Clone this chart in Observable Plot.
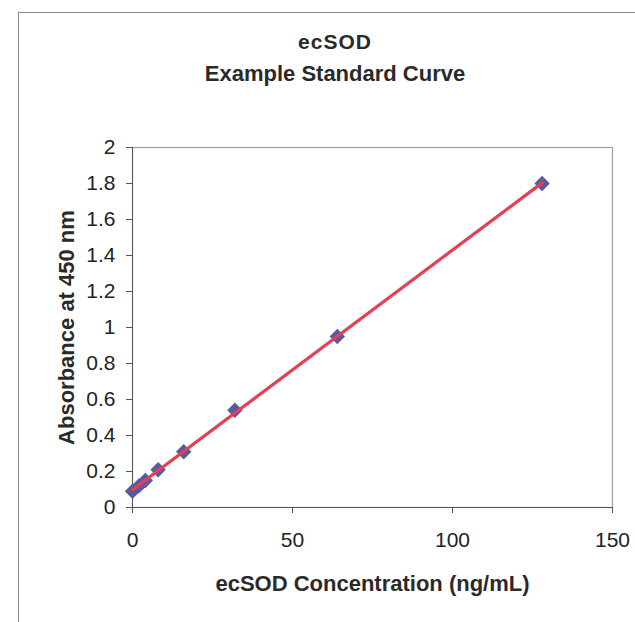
<!DOCTYPE html>
<html><head><meta charset="utf-8">
<script src="https://cdn.jsdelivr.net/npm/d3@7"></script>
<script src="https://cdn.jsdelivr.net/npm/@observablehq/plot@0.6"></script>
<style>
body{margin:0;background:#fff;}
#wrap{position:relative;width:635px;height:622px;font-family:Arial,"Liberation Sans",sans-serif;color:#222;overflow:hidden;}
#border{position:absolute;left:18px;top:12px;width:640px;height:640px;border-left:1.5px solid #8a8a8a;border-top:1.5px solid #8a8a8a;}
.t{position:absolute;left:0;width:670px;text-align:center;font-weight:bold;font-size:22px;line-height:24px;color:#2a2a2a;}
#chart{position:absolute;left:0;top:0;}
</style></head>
<body>
<div id="wrap">
<div id="border"></div>
<div id="chart"></div>
<div class="t" style="top:30px;font-size:21px;letter-spacing:1px">ecSOD</div>
<div class="t" style="top:62px">Example Standard Curve</div>
</div>
<script>
const concentration = [0, 2, 4, 8, 16, 32, 64, 128];
const absorbance = [0.09, 0.12, 0.15, 0.21, 0.31, 0.54, 0.95, 1.80];
const xTicks = [0, 50, 100, 150];
const yTicks = [0, 0.2, 0.4, 0.6, 0.8, 1, 1.2, 1.4, 1.6, 1.8, 2];
const xLabel = "ecSOD Concentration (ng/mL)";
const yLabel = "Absorbance at 450 nm";

const data = concentration.map((c, i) => ({c, a: absorbance[i]}));

const plot = Plot.plot({
  width: 635, height: 622,
  marginLeft: 132, marginRight: 23, marginTop: 147, marginBottom: 115,
  style: {fontFamily: 'Arial, "Liberation Sans", sans-serif', background: "transparent", color: "#222"},
  x: {domain: [0, 150], ticks: xTicks, label: null},
  y: {domain: [0, 2], ticks: yTicks, label: null},
  marks: [
    Plot.frame({stroke: "#a0a0a0", strokeWidth: 1.2}),
    Plot.axisX({ticks: xTicks, tickSize: 6, tickPadding: 19, fontSize: 21, label: null, tickFormat: d => String(d), stroke: "#555"}),
    Plot.axisY({ticks: yTicks, tickSize: 6, tickPadding: 11, fontSize: 21, label: null, tickFormat: d => String(d), stroke: "#555"}),
    Plot.ruleX([0], {stroke: "#555"}),
    Plot.ruleY([0], {stroke: "#555"}),
    Plot.dot(data, {x: "c", y: "a", symbol: "diamond2", r: 6, fill: "#5a5aa0", stroke: "#5a5aa0"}),
    Plot.linearRegressionY(data, {x: "c", y: "a", stroke: "#e43f52", strokeWidth: 3.2, ci: 0}),
    Plot.text([xLabel], {frameAnchor: "bottom", dy: 76, textAnchor: "middle", lineAnchor: "middle", fontSize: 22, fontWeight: "bold", fill: "#2a2a2a"}),
    Plot.text([yLabel], {frameAnchor: "left", dx: -66, textAnchor: "middle", lineAnchor: "middle", rotate: -90, fontSize: 22, fontWeight: "bold", fill: "#2a2a2a"})
  ]
});
document.getElementById("chart").appendChild(plot);
</script>
</body></html>
